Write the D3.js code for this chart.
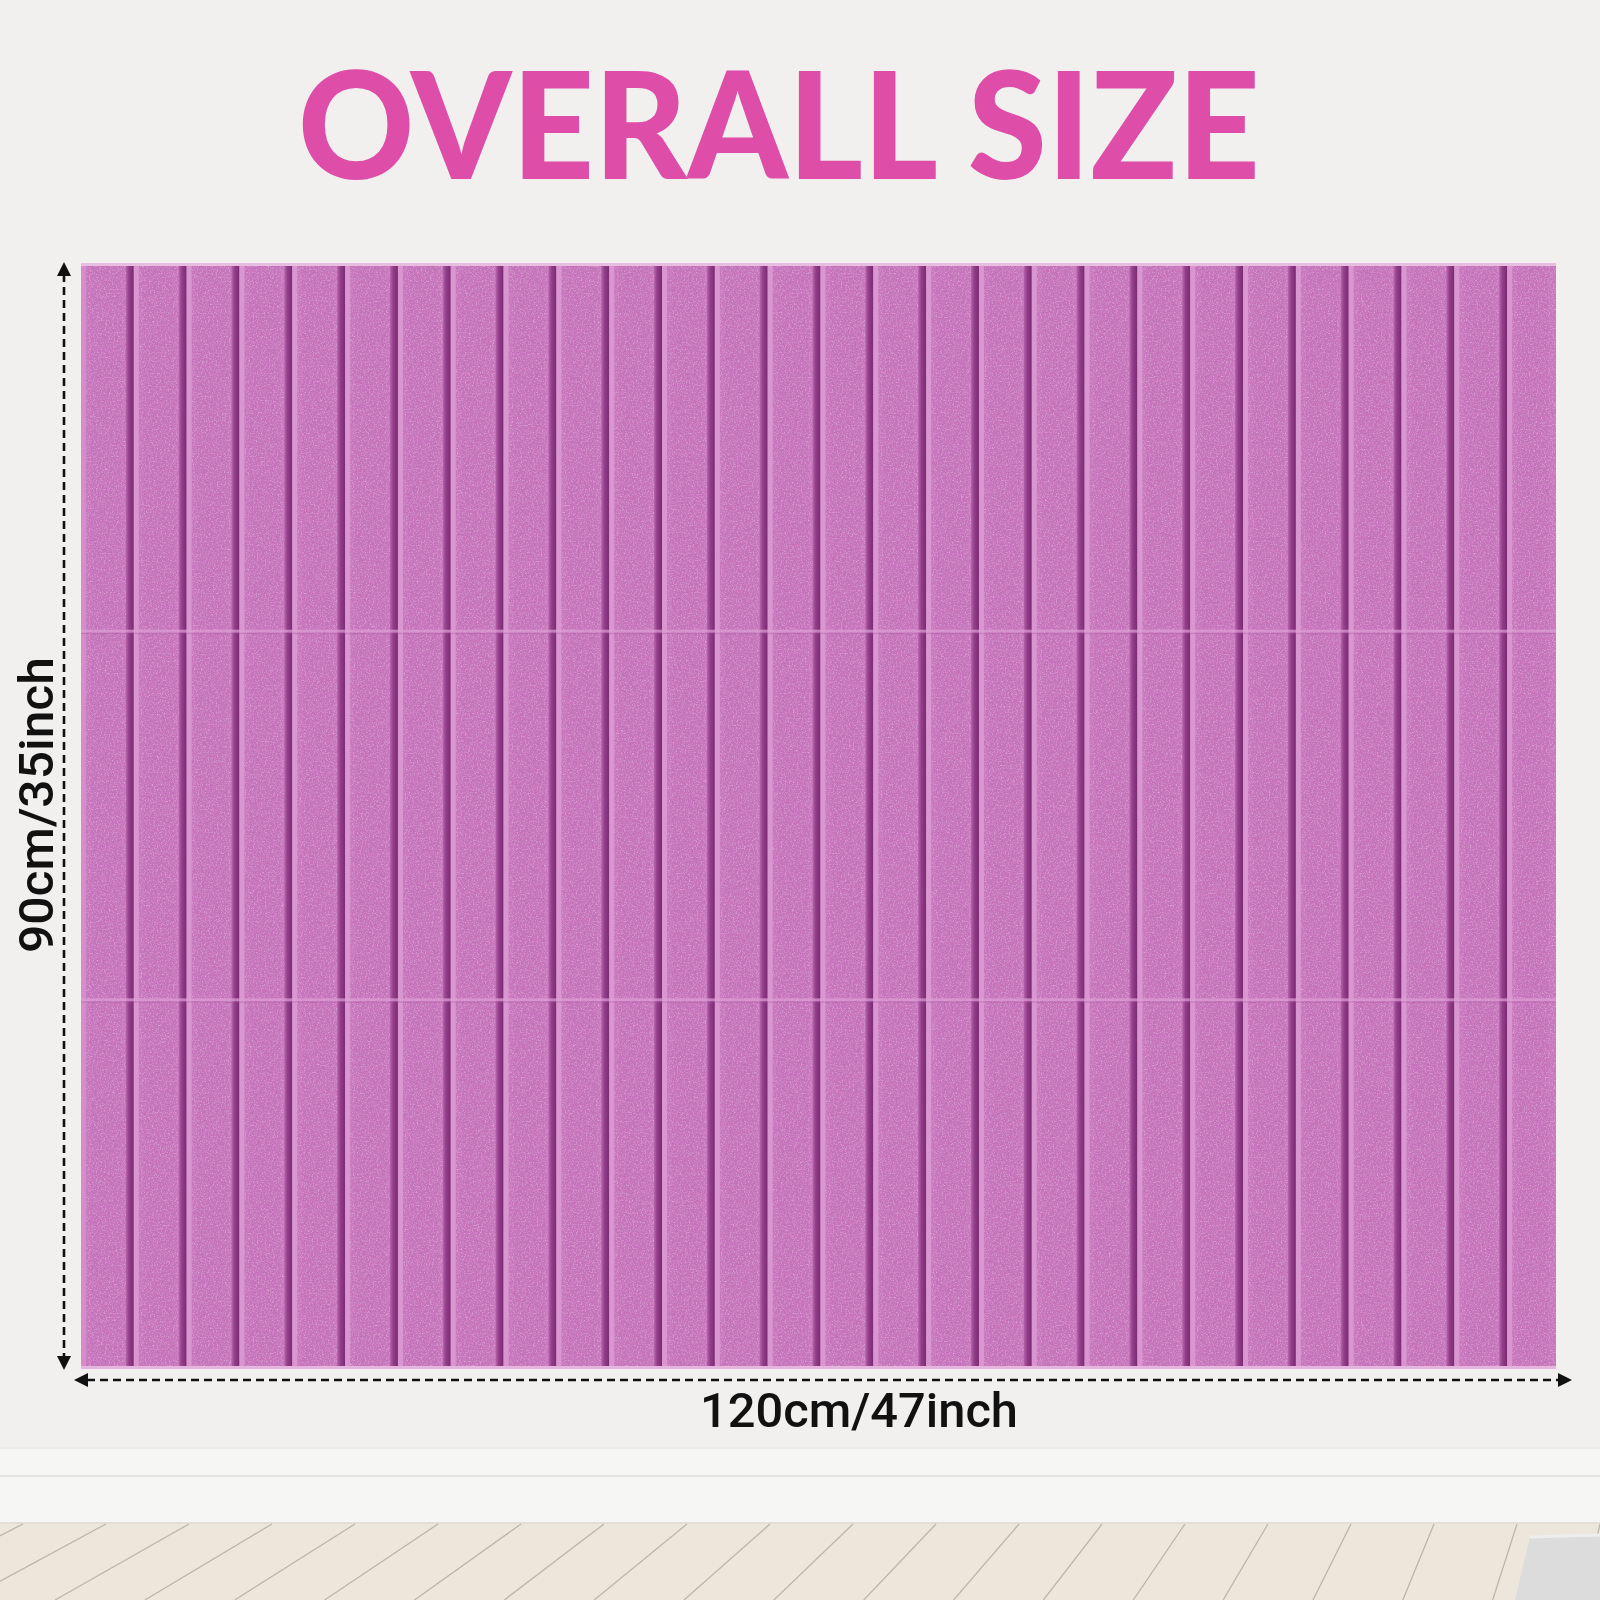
<!DOCTYPE html>
<html>
<head>
<meta charset="utf-8">
<script src="https://cdn.jsdelivr.net/npm/d3@7"></script>
<style>
  html, body { margin: 0; padding: 0; background: #f1f0ee; }
  svg { display: block; }
</style>
</head>
<body>
<div id="chart"></div>
<script>
// ---- data ----
const titleText = "OVERALL SIZE";
const widthLabel = "120cm/47inch";
const heightLabel = "90cm/35inch";
const panelWidthCm = [0, 120];
const panelHeightCm = [0, 90];
const panelRows = ["top", "middle", "bottom"];           // 3 rows of 30 cm
const rowHeightsCm = [30, 30, 30];
const strips = [1,2,3,4,5,6,7,8,9,10,11,12,13,14,15,16,17,18,19,20,21,22,23,24,25,26,27,28];

// ---- setup ----
const W = 1600, H = 1600;
const svg = d3.select("#chart").append("svg").attr("width", W).attr("height", H);

const x = d3.scaleLinear().domain(panelWidthCm).range([81, 1560]);
const y = d3.scaleLinear().domain(panelHeightCm).range([263, 1369]);
const stripW = panelWidthCm[1] / strips.length;
const panelRight = 1556;
const PW = panelRight - x(0), PH = y(90) - y(0);

const defs = svg.append("defs");
// felt texture
const f = defs.append("filter").attr("id", "felt")
  .attr("filterUnits", "userSpaceOnUse")
  .attr("x", x(0)).attr("y", y(0)).attr("width", PW).attr("height", PH);
f.append("feTurbulence").attr("type", "fractalNoise").attr("baseFrequency", "0.75").attr("numOctaves", 2).attr("seed", 3).attr("result", "n");
f.append("feColorMatrix").attr("in", "n").attr("type", "matrix")
  .attr("values", "0 0 0 0 1  0 0 0 0 0.92  0 0 0 0 1  2.4 0 0 0 -1.1");
const f2 = defs.append("filter").attr("id", "feltDark")
  .attr("filterUnits", "userSpaceOnUse")
  .attr("x", x(0)).attr("y", y(0)).attr("width", PW).attr("height", PH);
f2.append("feTurbulence").attr("type", "fractalNoise").attr("baseFrequency", "0.35").attr("numOctaves", 2).attr("seed", 9).attr("result", "n");
f2.append("feColorMatrix").attr("in", "n").attr("type", "matrix")
  .attr("values", "0 0 0 0 0.55  0 0 0 0 0.15  0 0 0 0 0.5  0 -2.2 0 0 1.25");
defs.append("clipPath").attr("id", "panelClip").append("rect")
  .attr("x", x(0)).attr("y", y(0)).attr("width", PW).attr("height", PH);
const g = defs.append("linearGradient").attr("id", "grooveGrad").attr("x1", 0).attr("x2", 1).attr("y1", 0).attr("y2", 0);
g.append("stop").attr("offset", 0).attr("stop-color", "#b866ad");
g.append("stop").attr("offset", 0.4).attr("stop-color", "#923f89");
g.append("stop").attr("offset", 1).attr("stop-color", "#7a2a72");

// ---- background: wall, baseboard, floor ----
svg.append("rect").attr("x", 0).attr("y", 0).attr("width", W).attr("height", H).attr("fill", "#f1f0ee");
svg.append("rect").attr("x", 0).attr("y", 1448).attr("width", W).attr("height", 76).attr("fill", "#f6f6f4");
svg.append("line").attr("x1", 0).attr("x2", W).attr("y1", 1448).attr("y2", 1448).attr("stroke", "#ecebe8").attr("stroke-width", 2);
svg.append("line").attr("x1", 0).attr("x2", W).attr("y1", 1476).attr("y2", 1476).attr("stroke", "#dfddd9").attr("stroke-width", 1.5);
svg.append("rect").attr("x", 0).attr("y", 1523).attr("width", W).attr("height", 77).attr("fill", "#ede6da");
svg.append("line").attr("x1", 0).attr("x2", W).attr("y1", 1523).attr("y2", 1523).attr("stroke", "#e4dfd6").attr("stroke-width", 2);
// floor boards (perspective lines toward a vanishing point)
const vp = [1812, 603];
const floorG = svg.append("g");
d3.range(-60, 1620, 83).forEach(x0 => {
  const dx = (vp[0] - x0) / (vp[1] - 1524);
  floorG.append("line")
    .attr("x1", x0).attr("y1", 1524)
    .attr("x2", x0 + dx * (1600 - 1524)).attr("y2", 1600)
    .attr("stroke", "#b3ada5").attr("stroke-width", 1.3).attr("opacity", 0.85);
});
// rug in corner
svg.append("path").attr("d", "M1530,1537 L1600,1535 L1600,1600 L1515,1600 Z").attr("fill", "#dcdcdc");
svg.append("path").attr("d", "M1530,1537 L1600,1535").attr("stroke", "#eeeeee").attr("stroke-width", 3);

// ---- panel ----
const panel = svg.append("g").attr("clip-path", "url(#panelClip)");
panel.selectAll("rect.strip").data(strips).join("rect").attr("class", "strip")
  .attr("x", d => x((d - 1) * stripW)).attr("y", y(0))
  .attr("width", d => x(d * stripW) - x((d - 1) * stripW)).attr("height", PH)
  .attr("fill", "#c776bc");
// subtle darker center tint on strips
panel.selectAll("rect.tint").data(strips).join("rect").attr("class", "tint")
  .attr("x", d => x((d - 1) * stripW) + 10).attr("y", y(0))
  .attr("width", d => x(d * stripW) - x((d - 1) * stripW) - 22).attr("height", PH)
  .attr("fill", "#b964ae").attr("opacity", 0.15);
// texture
panel.append("rect").attr("x", x(0)).attr("y", y(0)).attr("width", PW).attr("height", PH)
  .attr("filter", "url(#feltDark)").attr("opacity", 0.25);
panel.append("rect").attr("x", x(0)).attr("y", y(0)).attr("width", PW).attr("height", PH)
  .attr("filter", "url(#felt)").attr("opacity", 0.4);

// grooves: dark shadow then light bevel
const grooves = strips.slice(1);
panel.selectAll("rect.gdark").data(grooves).join("rect").attr("class", "gdark")
  .attr("x", d => x((d - 1) * stripW) - 8).attr("y", y(0))
  .attr("width", 8).attr("height", PH)
  .attr("fill", "url(#grooveGrad)");
panel.selectAll("rect.glight").data(grooves).join("rect").attr("class", "glight")
  .attr("x", d => x((d - 1) * stripW)).attr("y", y(0))
  .attr("width", 5).attr("height", PH)
  .attr("fill", "#d996d0");
// left edge bevel
panel.append("rect").attr("x", x(0)).attr("y", y(0)).attr("width", 5).attr("height", PH)
  .attr("fill", "#d891cf").attr("opacity", 0.8);

// row seams
const seams = d3.cumsum(rowHeightsCm).slice(0, panelRows.length - 1);
panel.selectAll("rect.seam").data(seams).join("rect").attr("class", "seam")
  .attr("x", x(0)).attr("y", d => y(d) - 2).attr("width", PW).attr("height", 3)
  .attr("fill", "#de9fd6").attr("opacity", 0.7);
panel.selectAll("rect.seam2").data(seams).join("rect").attr("class", "seam2")
  .attr("x", x(0)).attr("y", d => y(d) + 1).attr("width", PW).attr("height", 1.5)
  .attr("fill", "#a94e9f").attr("opacity", 0.3);

// top / bottom edge highlights
panel.append("rect").attr("x", x(0)).attr("y", y(0)).attr("width", PW).attr("height", 3).attr("fill", "#e8bde2");
panel.append("rect").attr("x", x(0)).attr("y", y(90) - 3).attr("width", PW).attr("height", 3).attr("fill", "#e6b5df");

// ---- dimension arrows ----
const dash = "8,5";
const vx = 64;
svg.append("line").attr("x1", vx).attr("x2", vx).attr("y1", 274).attr("y2", 1358)
  .attr("stroke", "#111").attr("stroke-width", 2.6).attr("stroke-dasharray", dash);
svg.append("path").attr("d", `M${vx},262 L${vx - 7},276 L${vx + 7},276 Z`).attr("fill", "#111");
svg.append("path").attr("d", `M${vx},1370 L${vx - 7},1356 L${vx + 7},1356 Z`).attr("fill", "#111");

const hy = 1380;
svg.append("line").attr("x1", 87).attr("x2", 1560).attr("y1", hy).attr("y2", hy)
  .attr("stroke", "#111").attr("stroke-width", 2.6).attr("stroke-dasharray", dash);
svg.append("path").attr("d", `M74,${hy} L88,${hy - 7} L88,${hy + 7} Z`).attr("fill", "#111");
svg.append("path").attr("d", `M1572,${hy} L1558,${hy - 7} L1558,${hy + 7} Z`).attr("fill", "#111");

// ---- texts ----
svg.append("text").text(titleText)
  .attr("x", 298).attr("y", 179)
  .attr("textLength", 962).attr("lengthAdjust", "spacingAndGlyphs")
  .attr("font-family", "Lato, 'Open Sans', sans-serif").attr("font-weight", 900)
  .attr("font-size", 148).attr("fill", "#de4ea8");

svg.append("text").text(widthLabel)
  .attr("x", 700).attr("y", 1427)
  .attr("textLength", 318).attr("lengthAdjust", "spacingAndGlyphs")
  .attr("font-family", "Roboto, sans-serif").attr("font-weight", 500)
  .attr("font-size", 48).attr("fill", "#111");

svg.append("text").text(heightLabel)
  .attr("transform", "translate(53,953) rotate(-90)")
  .attr("x", 0).attr("y", 0)
  .attr("textLength", 296).attr("lengthAdjust", "spacingAndGlyphs")
  .attr("font-family", "Roboto, sans-serif").attr("font-weight", 500)
  .attr("font-size", 48).attr("fill", "#111");
</script>
</body>
</html>
